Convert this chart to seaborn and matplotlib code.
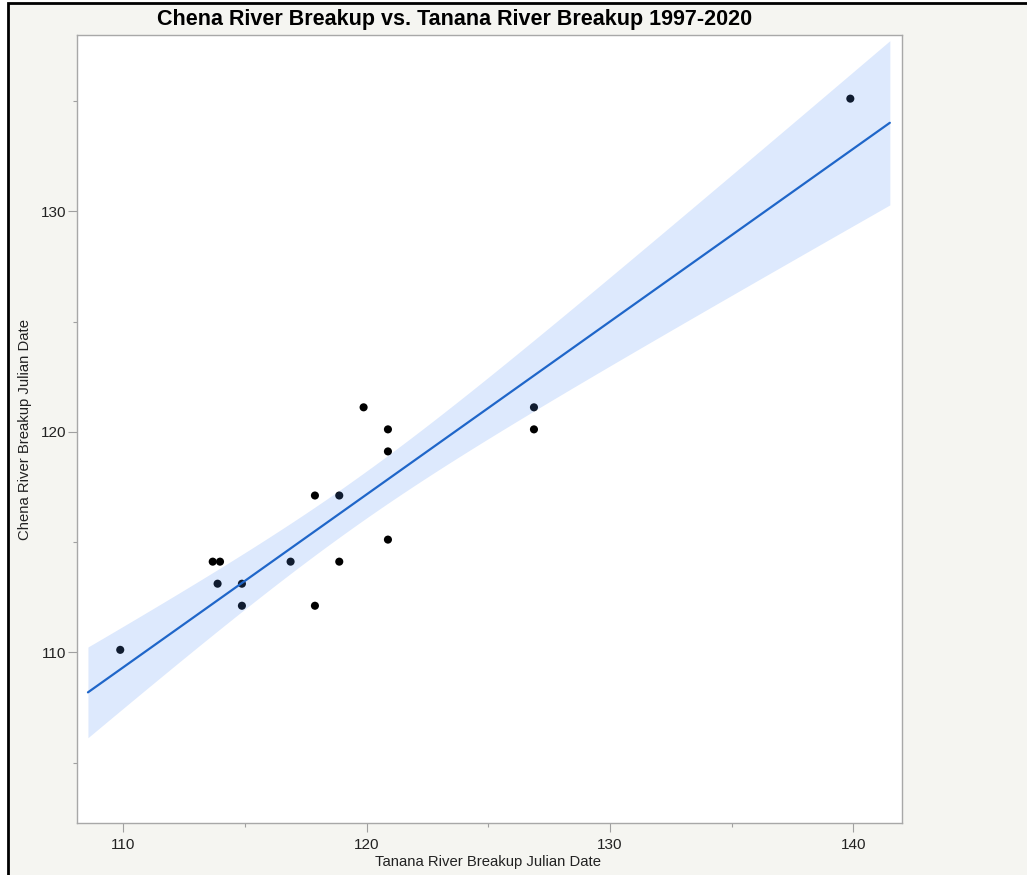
import numpy as np
import pandas as pd
import matplotlib.pyplot as plt
import matplotlib.transforms as mtransforms
import seaborn as sns
from matplotlib.patches import Rectangle
from matplotlib.ticker import MultipleLocator

# Datos (dia juliano de ruptura del hielo)
tanana = [110, 113.8, 114.1, 114, 115, 115, 117, 118, 118, 119, 119, 120, 121, 121, 121, 127, 127, 140]
chena = [110, 114, 114, 113, 113, 112, 114, 117, 112, 117, 114, 121, 120, 119, 115, 121, 120, 135]

TITULO = "Chena River Breakup vs. Tanana River Breakup 1997-2020"
XLABEL = "Tanana River Breakup Julian Date"
YLABEL = "Chena River Breakup Julian Date"

COLOR_LINEA = "#1f66c9"
COLOR_BANDA = "#5591f5"
FONDO = "#f5f5f1"

sns.set_theme(style="white")
plt.rcParams["font.family"] = ["Liberation Sans", "DejaVu Sans"]

df = pd.DataFrame({"tanana": tanana, "chena": chena})

fig = plt.figure(figsize=(10.27, 8.75), dpi=100, facecolor=FONDO)
ax = fig.add_axes([77 / 1027, 1 - 823 / 875, 825 / 1027, 788 / 875])
ax.set_facecolor("white")

# puntos debajo de la banda de confianza
sns.scatterplot(data=df, x="tanana", y="chena", ax=ax, color="black", s=34,
                edgecolor="none", zorder=2)
# el original dibuja los marcadores un poco desplazados (arriba-izquierda)
desplaza = mtransforms.ScaledTranslation(-3 / 100, 2.5 / 100, fig.dpi_scale_trans)
ax.collections[-1].set_offset_transform(ax.transData + desplaza)

# recta de ajuste y banda de confianza de la media (analitica, 95%)
x = np.array(tanana, dtype=float)
y = np.array(chena, dtype=float)
n = len(x)
pendiente, intercepto = np.polyfit(x, y, 1)
resid = y - (intercepto + pendiente * x)
s = np.sqrt(np.sum(resid ** 2) / (n - 2))
sxx = np.sum((x - x.mean()) ** 2)
t_crit = 2.1199  # t(0.975, 16)
xg = np.linspace(108.55, 141.5, 200)
yg = intercepto + pendiente * xg
mitad = t_crit * s * np.sqrt(1 / n + (xg - x.mean()) ** 2 / sxx)
ax.fill_between(xg, yg - mitad, yg + mitad, color=COLOR_BANDA, alpha=0.2,
                linewidth=0, zorder=3)
sns.lineplot(x=xg, y=yg, ax=ax, color=COLOR_LINEA, linewidth=1.6, zorder=4)

ax.set_xlim(108.1, 142.0)
ax.set_ylim(102.26, 138.0)
ax.xaxis.set_major_locator(MultipleLocator(10))
ax.xaxis.set_minor_locator(MultipleLocator(5))
ax.yaxis.set_major_locator(MultipleLocator(10))
ax.yaxis.set_minor_locator(MultipleLocator(5))
ax.tick_params(which="both", direction="out", color="#a0a0a0", width=0.8,
               labelsize=11, labelcolor="#222222")
ax.tick_params(which="major", length=6.5, bottom=True, left=True)
ax.tick_params(which="minor", length=3, bottom=True, left=True)
ax.tick_params(axis="x", which="major", pad=4.5)
ax.tick_params(axis="y", which="major", pad=1.5)
for sp in ax.spines.values():
    sp.set_color("#a8a8a8")
    sp.set_linewidth(1.0)

ax.set_xlabel("")
ax.set_ylabel("")
fig.text(488 / 1027, 1 - 862 / 875, XLABEL, ha="center", va="center",
         fontsize=10.7, color="#222222")
fig.text(25 / 1027, 1 - 430 / 875, YLABEL, ha="center", va="center",
         rotation=90, fontsize=10.7, color="#222222")
fig.text(455 / 1027, 1 - 19 / 875, TITULO, ha="center", va="center",
         fontsize=15.5, fontweight="bold", color="black")

# marco negro de la captura (fuera del marco, blanco)
fig.add_artist(Rectangle((0, 0), 8 / 1027, 1, transform=fig.transFigure,
                         facecolor="white", edgecolor="none", zorder=9))
fig.add_artist(Rectangle((0, 1 - 3 / 875), 1, 3 / 875, transform=fig.transFigure,
                         facecolor="white", edgecolor="none", zorder=9))
fig.add_artist(Rectangle((8 / 1027, -0.2), 1.2, 0.2 + (1 - 3 / 875),
                         transform=fig.transFigure, fill=False,
                         edgecolor="black", linewidth=2, zorder=10))

fig.savefig("out.png", dpi=100, facecolor=FONDO)
